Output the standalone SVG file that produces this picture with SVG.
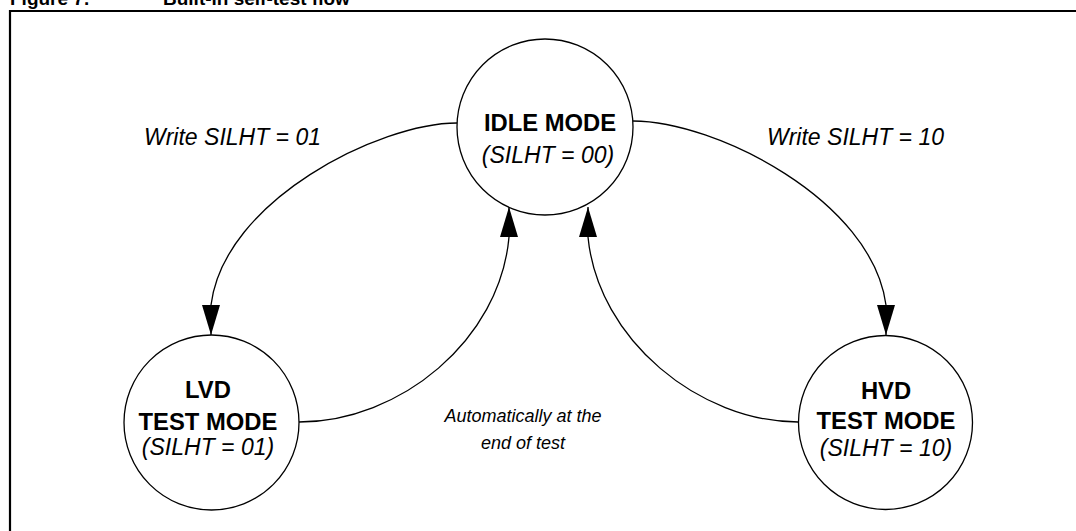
<svg xmlns="http://www.w3.org/2000/svg" width="1076" height="531" viewBox="0 0 1076 531">
  <style>
    .frame { fill: none; stroke: #000; stroke-width: 2.2; }
    .state { fill: #fff; stroke: #000; stroke-width: 1.3; }
    .edge { fill: none; stroke: #000; stroke-width: 1.3; marker-end: url(#arrow); }
    text { font-family: "Liberation Sans", Arial, sans-serif; fill: #000; text-anchor: middle; }
    .title { font-weight: bold; font-size: 19px; text-anchor: start; }
    .bold { font-weight: bold; font-size: 23.8px; }
    .ital { font-style: italic; font-size: 23px; }
    .label { font-style: italic; font-size: 23px; text-anchor: start; }
    .note { font-style: italic; font-size: 18px; }
  </style>
  <defs>
    <marker id="arrow" markerUnits="userSpaceOnUse" markerWidth="30" markerHeight="18" refX="30" refY="9" orient="auto">
      <path d="M0,0 L30,9 L0,18 z" fill="#000"/>
    </marker>
  </defs>

  <!-- caption and figure frame -->
  <text class="title" x="10" y="5">Figure 7.</text>
  <text class="title" x="163" y="5">Built-in self-test flow</text>
  <path class="frame" d="M10,531 V11 H1080"/>

  <!-- transitions -->
  <g id="connectors">
    <path class="edge" d="M457,123 C380,123 224,200 211,305 L211,335"/>
    <path class="edge" d="M633,121 C715,121 872,200 886,305 L886,335"/>
    <path class="edge" d="M299,422 C400,422 500,340 509,237 L509,207"/>
    <path class="edge" d="M798,422 C700,422 598,340 588,237 L588,207"/>
  </g>

  <g id="labels">
    <text class="label" x="144" y="145">Write SILHT = 01</text>
    <text class="label" x="767" y="145">Write SILHT = 10</text>
    <text class="note" x="523" y="422">Automatically at the</text>
    <text class="note" x="523" y="449">end of test</text>
  </g>

  <!-- states -->
  <g id="idle">
    <circle class="state" cx="545" cy="127" r="88"/>
    <text class="bold" x="550" y="131">IDLE MODE</text>
    <text class="ital" x="548" y="163">(SILHT = 00)</text>
  </g>
  <g id="lvd">
    <circle class="state" cx="211.5" cy="422.5" r="87.5"/>
    <text class="bold" x="208" y="398">LVD</text>
    <text class="bold" x="208" y="430">TEST MODE</text>
    <text class="ital" x="208" y="455">(SILHT = 01)</text>
  </g>
  <g id="hvd">
    <circle class="state" cx="885.5" cy="422.5" r="87"/>
    <text class="bold" x="886" y="399">HVD</text>
    <text class="bold" x="886" y="429">TEST MODE</text>
    <text class="ital" x="886" y="456">(SILHT = 10)</text>
  </g>
</svg>
